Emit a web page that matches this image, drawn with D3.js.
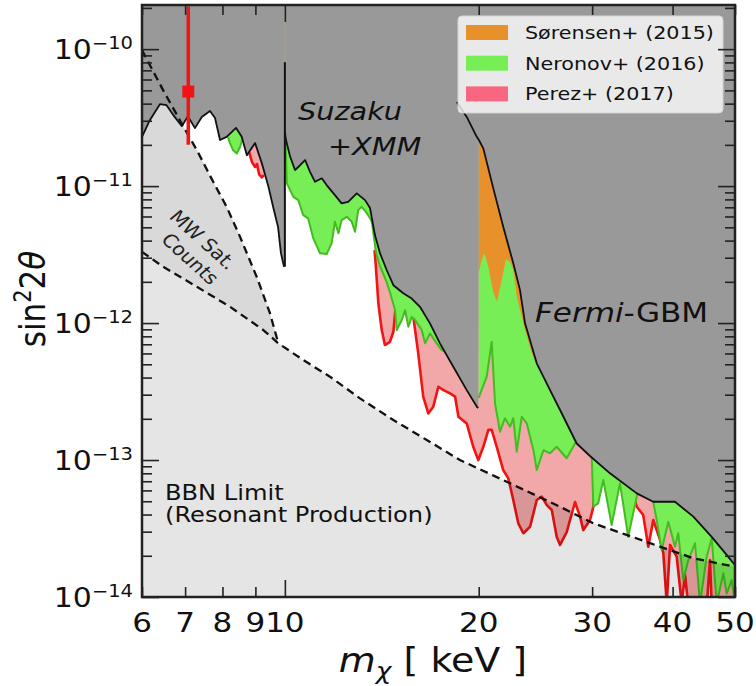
<!DOCTYPE html>
<html>
<head>
<meta charset="utf-8">
<script src="https://cdn.jsdelivr.net/npm/d3@7"></script>
<style>
  body { margin: 0; background: #fff; }
  svg { display: block; font-family: "DejaVu Sans", sans-serif; }
</style>
</head>
<body>
<svg id="chart" width="756" height="686"></svg>
<script>
/* ===== DATA (mass in keV, sin^2 2theta) ===== */
const suzakuLowMass = [6.0, 6.17, 6.40, 6.55, 6.71, 6.92, 7.07, 7.25, 7.43, 7.65, 7.79, 7.93, 8.12, 8.40, 8.57, 8.73, 8.99, 9.21, 9.43, 9.59, 9.76, 9.86, 9.97];
const suzakuLowSin = [2.29e-11, 3.03e-11, 3.97e-11, 3.90e-11, 3.30e-11, 2.74e-11, 3.24e-11, 2.65e-11, 3.20e-11, 3.54e-11, 3.14e-11, 2.17e-11, 2.29e-11, 2.66e-11, 2.29e-11, 1.68e-11, 2.06e-11, 1.47e-11, 9.88e-12, 7.03e-12, 5.02e-12, 3.24e-12, 2.58e-12];

const suzakuHighMass = [10.0, 10.04, 10.19, 10.37, 10.56, 10.75, 10.94, 11.14, 11.41, 11.61, 11.96, 12.25, 12.54, 12.93, 13.32, 13.56, 13.80, 14.05, 14.39, 14.74, 15.27, 15.74, 16.21, 16.80, 17.41, 18.26, 19.16, 19.88, 19.97];
const suzakuHighSin = [2.49e-11, 2.17e-11, 1.64e-11, 1.31e-11, 1.42e-11, 1.55e-11, 1.27e-11, 1.075e-11, 1.14e-11, 1.017e-11, 8.60e-12, 7.48e-12, 7.68e-12, 8.85e-12, 7.90e-12, 6.91e-12, 4.39e-12, 3.24e-12, 2.44e-12, 1.89e-12, 1.65e-12, 1.51e-12, 1.315e-12, 9.95e-13, 7.11e-13, 4.80e-13, 3.24e-13, 2.44e-13, 2.40e-13];

const fermiMass = [18.49, 19.16, 19.86, 20.0, 20.33, 21.07, 21.83, 22.63, 23.18, 23.60, 24.61, 25.81, 26.75, 28.39, 29.77, 31.98, 35.19, 37.33, 40.34, 43.08, 46.00, 48.53, 50.0];
const fermiSin = [4.12e-11, 3.20e-11, 2.29e-11, 2.18e-11, 1.885e-11, 9.62e-12, 5.05e-12, 2.73e-12, 1.74e-12, 9.95e-13, 5.08e-13, 3.24e-13, 2.32e-13, 1.32e-13, 1.07e-13, 8.00e-14, 5.71e-14, 4.96e-14, 4.96e-14, 3.86e-14, 2.75e-14, 2.03e-14, 1.71e-14];

const suzakuSpikeTop = 8.04e-11;

const mwMass = [6.0, 6.47, 6.96, 7.30, 7.74, 8.12, 8.52, 9.04, 9.48, 9.77];
const mwSin = [9.83e-11, 5.02e-11, 2.71e-11, 1.83e-11, 1.075e-11, 7.06e-12, 4.26e-12, 2.18e-12, 1.18e-12, 7.11e-13];

const bbnMass = [6.0, 6.47, 7.30, 8.22, 9.26, 9.77, 10.68, 11.75, 13.08, 14.74, 16.61, 18.70, 22.37, 26.75, 30.13, 33.94, 38.24, 43.08, 50.0];
const bbnSin = [3.31e-12, 2.58e-12, 1.84e-12, 1.315e-12, 8.89e-13, 7.11e-13, 5.37e-13, 4.06e-13, 2.82e-13, 1.96e-13, 1.40e-13, 1.0e-13, 6.76e-14, 4.56e-14, 3.45e-14, 2.84e-14, 2.33e-14, 1.92e-14, 1.66e-14];

// Perez+ (2017) lower edges
const perezAMass = [8.80, 8.89, 8.99, 9.05, 9.12, 9.21, 9.28];
const perezASin = [1.77e-11, 1.50e-11, 1.38e-11, 1.45e-11, 1.22e-11, 1.16e-11, 1.20e-11];
const perezBMass = [13.78, 13.83, 13.97, 14.14, 14.30, 14.56, 14.74, 14.88, 15.37, 15.76, 15.87, 16.11, 16.40, 16.70, 17.00, 17.31, 17.63, 18.05, 18.38, 18.60, 19.16, 19.61, 19.97, 20.33, 20.70, 20.95, 21.33, 21.83, 22.23, 22.63, 23.04, 23.46, 24.03, 24.61, 25.06, 25.51, 25.97, 26.43, 26.75, 27.39, 28.22, 28.73, 29.07, 29.77, 30.13, 30.42, 31.19, 33.14, 34.59, 35.19, 36.01, 36.67, 37.33, 38.24, 38.70, 39.17, 39.64, 40.59, 41.32, 41.82, 42.27, 45.23, 45.72, 46.00, 50.0];
const perezBSin = [3.41e-12, 2.79e-12, 1.39e-12, 8.89e-13, 6.91e-13, 7.30e-13, 8.64e-13, 1.42e-12, 1.52e-12, 1.40e-12, 1.017e-12, 6.01e-13, 2.90e-13, 2.19e-13, 2.45e-13, 3.43e-13, 3.24e-13, 3.07e-13, 2.90e-13, 2.07e-13, 1.85e-13, 1.25e-13, 1.0e-13, 1.25e-13, 1.66e-13, 1.66e-13, 1.25e-13, 8.45e-14, 7.35e-14, 5.11e-14, 3.45e-14, 2.92e-14, 3.26e-14, 5.11e-14, 5.40e-14, 4.69e-14, 4.32e-14, 2.75e-14, 2.40e-14, 2.98e-14, 4.94e-14, 3.86e-14, 3.08e-14, 3.65e-14, 4.54e-14, 9.67e-14, 8.31e-14, 6.91e-14, 5.94e-14, 4.56e-14, 3.97e-14, 2.33e-14, 3.65e-14, 2.61e-14, 2.08e-14, 9e-15, 2.40e-14, 1.97e-14, 9e-15, 1.45e-14, 9e-15, 9e-15, 1.86e-14, 9e-15, 9e-15];

// Neronov+ (2016) lower edges
const neronovAMass = [8.16, 8.22, 8.31, 8.42, 8.52, 8.60];
const neronovASin = [2.28e-11, 2.05e-11, 1.83e-11, 1.73e-11, 1.93e-11, 2.24e-11];
const neronovBMass = [10.02, 10.07, 10.31, 10.49, 10.68, 10.87, 11.07, 11.34, 11.61, 11.82, 11.96, 12.11, 12.25, 12.48, 12.70, 12.85, 13.00, 13.16, 13.37, 13.56, 13.65, 13.85, 14.05, 14.39, 14.56, 14.83, 14.92, 15.19, 15.37, 15.55, 15.74, 15.93, 16.31, 16.51, 16.80, 17.21, 17.52, 17.79];
const neronovBSin = [2.36e-11, 1.046e-11, 8.35e-12, 7.90e-12, 6.14e-12, 5.81e-12, 4.15e-12, 3.23e-12, 3.19e-12, 3.82e-12, 5.49e-12, 4.52e-12, 5.65e-12, 5.97e-12, 5.49e-12, 4.64e-12, 6.68e-12, 7.06e-12, 6.46e-12, 5.84e-12, 5.46e-12, 3.30e-12, 2.61e-12, 1.99e-12, 1.68e-12, 1.24e-12, 8.89e-13, 1.052e-12, 1.24e-12, 9.40e-13, 1.11e-12, 1.052e-12, 8.89e-13, 7.11e-13, 8.41e-13, 7.11e-13, 6.35e-13, 6.14e-13];
const neronovCMass = [19.99, 20.58, 20.95, 21.20, 21.58, 21.97, 22.37, 22.63, 22.91, 23.33, 23.75, 24.32, 24.61, 25.21, 25.81, 26.43, 27.39, 28.22, 28.42];
const neronovCSin = [2.84e-13, 4.06e-13, 7.30e-13, 2.59e-13, 1.61e-13, 2.02e-13, 1.75e-13, 2.02e-13, 1.15e-13, 2.07e-13, 1.85e-13, 1.18e-13, 8.45e-14, 1.18e-13, 1.12e-13, 1.25e-13, 1.03e-13, 1.32e-13, 1.38e-13];
const neronovDMass = [29.95, 30.13, 30.66, 31.22, 32.17, 33.14, 34.13, 35.19, 35.29];
const neronovDSin = [1.088e-13, 4.56e-14, 4.83e-14, 7.15e-14, 3.35e-14, 6.76e-14, 2.75e-14, 5.40e-14, 5.74e-14];
const neronovEMass = [37.30, 37.79, 38.47, 39.39, 40.34, 40.82, 41.56, 42.32, 43.34, 44.12, 45.19, 46.00, 46.84, 47.96, 48.53, 49.41, 50.0];
const neronovESin = [5.02e-14, 3.65e-14, 2.20e-14, 3.54e-14, 2.33e-14, 2.92e-14, 1.33e-14, 1.86e-14, 2.47e-14, 9e-15, 1.97e-14, 2.68e-14, 9e-15, 1.49e-14, 1.06e-14, 1.33e-14, 9e-15];

// Sorensen+ (2015) lower edge
const sorensenMass = [19.99, 20.21, 20.41, 20.70, 21.07, 21.35, 21.71, 22.05, 22.37, 22.63, 22.91, 23.60, 24.17, 24.73];
const sorensenSin = [2.32e-12, 2.88e-12, 3.24e-12, 2.58e-12, 1.68e-12, 1.43e-12, 2.06e-12, 2.93e-12, 2.79e-12, 2.44e-12, 1.56e-12, 8.89e-13, 6.01e-13, 4.69e-13];

// 3.5 keV line
const lineMass = 7.08;
const lineSin = 4.9e-11;
const lineSinRange = [2.0e-11, 2.05e-10];

const xTickMinor = [6, 7, 8, 9, 20, 30, 40, 50];
const xTickMajor = [10];
const xTickLabels = [6, 7, 8, 9, 10, 20, 30, 40, 50];
const yTickExps = [-14, -13, -12, -11, -10];

const legendLabels = ["Sørensen+ (2015)", "Neronov+ (2016)", "Perez+ (2017)"];
const legendColors = ["#e8902a", "#77ee55", "#f8667f"];

/* ===== STYLE ===== */
const plot = { left: 142, right: 735, top: 5, bottom: 597 };
const SX = 1.15;
const colors = {
    excluded: "#999999",
    mw: "#d9d9d9",
    green: "#77ee55",
    greenEdge: "#44bb22",
    orange: "#e8902a",
    pinkFill: "#e03030",
    red: "#f01414"
};

/* ===== SCALES ===== */
const x = d3.scaleLog().domain([6, 50]).range([plot.left, plot.right]);
const y = d3.scaleLog().domain([1e-14, 2.1e-10]).range([plot.bottom, plot.top]);
const yTop = y.domain()[1];

const svg = d3.select("#chart");

svg.append("defs").append("clipPath").attr("id", "plotClip")
    .append("rect")
    .attr("x", plot.left).attr("y", plot.top)
    .attr("width", plot.right - plot.left)
    .attr("height", plot.bottom - plot.top);

const g = svg.append("g").attr("clip-path", "url(#plotClip)");

function pts(ms, vs) {
    return ms.map((m, i) => ({ m: m, v: vs[i] }));
}

const line = d3.line().x(d => x(d.m)).y(d => y(d.v));
const toTop = d3.area().x(d => x(d.m)).y0(d => y(d.v)).y1(plot.top);
const toBottom = d3.area().x(d => x(d.m)).y0(d => y(d.v)).y1(plot.bottom);

const suzakuLow = pts(suzakuLowMass, suzakuLowSin);
const suzakuHigh = pts(suzakuHighMass, suzakuHighSin);
const fermi = pts(fermiMass, fermiSin);
const mw = pts(mwMass, mwSin);
const bbn = pts(bbnMass, bbnSin);
const perezA = pts(perezAMass, perezASin);
const perezB = pts(perezBMass, perezBSin);
const neronovA = pts(neronovAMass, neronovASin);
const neronovB = pts(neronovBMass, neronovBSin);
const neronovC = pts(neronovCMass, neronovCSin);
const neronovD = pts(neronovDMass, neronovDSin);
const neronovE = pts(neronovEMass, neronovESin);
const sorensen = pts(sorensenMass, sorensenSin);

/* ===== BACKGROUND + MW REGION ===== */
g.append("rect")
    .attr("x", plot.left).attr("y", plot.top)
    .attr("width", plot.right - plot.left).attr("height", plot.bottom - plot.top)
    .attr("fill", "#fff");

const mwLast = mwMass[mwMass.length - 1];
const mwPoly = mw.concat(bbn.filter(d => d.m <= mwLast).reverse());
g.append("path").attr("d", line(mwPoly) + "Z").attr("fill", colors.mw);

/* ===== PEREZ ===== */
[perezA, perezB].forEach(p => {
    g.append("path").attr("d", toTop(p)).attr("fill", colors.pinkFill).attr("fill-opacity", 0.42);
});
[perezA, perezB].forEach(p => {
    g.append("path").attr("d", line(p))
        .attr("fill", "none").attr("stroke", colors.red)
        .attr("stroke-width", 2.6).attr("stroke-linejoin", "round");
});

/* ===== NERONOV + SORENSEN ===== */
g.append("path").attr("d", toTop(neronovC)).attr("fill", colors.green);
g.append("path").attr("d", toTop(sorensen)).attr("fill", colors.orange);
[neronovA, neronovB, neronovD, neronovE].forEach(p => {
    g.append("path").attr("d", toTop(p)).attr("fill", colors.green);
});
[neronovA, neronovB, neronovC, neronovD, neronovE].forEach(p => {
    g.append("path").attr("d", line(p))
        .attr("fill", "none").attr("stroke", colors.greenEdge)
        .attr("stroke-width", 2).attr("stroke-linejoin", "round");
});

/* ===== BBN REGION ===== */
g.append("path").attr("d", toBottom(bbn)).attr("fill", "#000").attr("fill-opacity", 0.1);

/* ===== EXCLUDED (X-RAY) REGION ===== */
const excluded = [{ m: 6, v: yTop }]
    .concat(suzakuLow, suzakuHigh, fermi.filter(d => d.m >= 20), [{ m: 50, v: yTop }]);
g.append("path").attr("d", line(excluded) + "Z").attr("fill", colors.excluded);

[suzakuLow, suzakuHigh, fermi].forEach(p => {
    g.append("path").attr("d", line(p))
        .attr("fill", "none").attr("stroke", "#111")
        .attr("stroke-width", 1.8).attr("stroke-linejoin", "round");
});
g.append("line")
    .attr("x1", x(10)).attr("x2", x(10))
    .attr("y1", y(suzakuLowSin[suzakuLowSin.length - 1])).attr("y2", y(suzakuSpikeTop))
    .attr("stroke", "#111").attr("stroke-width", 2);
g.append("line")
    .attr("x1", x(10)).attr("x2", x(10))
    .attr("y1", y(suzakuSpikeTop)).attr("y2", plot.top)
    .attr("stroke", "#a8a088").attr("stroke-width", 1);

/* ===== DASHED LIMITS ===== */
[mw, bbn].forEach(p => {
    g.append("path").attr("d", line(p))
        .attr("fill", "none").attr("stroke", "#111")
        .attr("stroke-width", 2.3).attr("stroke-dasharray", "8,5");
});

/* ===== 3.5 keV LINE ===== */
g.append("line")
    .attr("x1", x(lineMass)).attr("x2", x(lineMass))
    .attr("y1", y(lineSinRange[0])).attr("y2", y(lineSinRange[1]))
    .attr("stroke", colors.red).attr("stroke-width", 3.5);
g.append("rect")
    .attr("x", x(lineMass) - 6).attr("y", y(lineSin) - 6)
    .attr("width", 12).attr("height", 12)
    .attr("fill", colors.red);

/* ===== ANNOTATIONS ===== */
function stretchedText(px, py, size) {
    return svg.append("text")
        .attr("transform", `translate(${px},${py}) scale(${SX},1)`)
        .attr("font-size", size)
        .attr("fill", "#111");
}

stretchedText(298, 120, 25).attr("font-style", "italic").text("Suzaku");
stretchedText(328, 155, 25).attr("font-style", "italic").text("+XMM");

const fermiLabel = stretchedText(535, 322, 27);
fermiLabel.append("tspan").attr("font-style", "italic").text("Fermi");
fermiLabel.append("tspan").text("-GBM");

[["MW Sat.", 203, 240], ["Counts", 190, 259]].forEach(([txt, cx, cy]) => {
    svg.append("text")
        .attr("transform", `translate(${cx},${cy}) scale(${SX},1) rotate(46)`)
        .attr("text-anchor", "middle")
        .attr("dominant-baseline", "central")
        .attr("font-size", 18)
        .attr("fill", "#222")
        .text(txt);
});

stretchedText(165, 500, 21).text("BBN Limit");
stretchedText(165, 522, 21).text("(Resonant Production)");

/* ===== LEGEND ===== */
const legend = svg.append("g");
legend.append("rect")
    .attr("x", 458).attr("y", 16).attr("width", 265).attr("height", 97)
    .attr("rx", 4)
    .attr("fill", "#fff").attr("fill-opacity", 0.78)
    .attr("stroke", "#d4d4d4").attr("stroke-width", 1);

legendLabels.forEach((lbl, i) => {
    const cy = 32.5 + i * 30.7;
    legend.append("rect")
        .attr("x", 466).attr("y", cy - 7.5)
        .attr("width", 42).attr("height", 15)
        .attr("fill", legendColors[i]);
    legend.append("text")
        .attr("transform", `translate(525,${cy + 6.5}) scale(${SX},1)`)
        .attr("font-size", 18)
        .attr("fill", "#111")
        .text(lbl);
});

/* ===== AXES ===== */
function styleTicks(sel) {
    sel.select(".domain").remove();
    sel.selectAll("line").attr("stroke", "#222").attr("stroke-width", 1.6);
}

const yMinor = y.ticks().filter(v => Math.abs(Math.log10(v) - Math.round(Math.log10(v))) > 1e-6);
const yMajor = yTickExps.map(e => Math.pow(10, e));

svg.append("g").attr("transform", `translate(0,${plot.bottom})`)
    .call(d3.axisBottom(x).tickValues(xTickMinor).tickSize(-10).tickFormat("")).call(styleTicks);
svg.append("g").attr("transform", `translate(0,${plot.bottom})`)
    .call(d3.axisBottom(x).tickValues(xTickMajor).tickSize(-17).tickFormat("")).call(styleTicks);
svg.append("g").attr("transform", `translate(0,${plot.top})`)
    .call(d3.axisTop(x).tickValues(xTickMinor).tickSize(-10).tickFormat("")).call(styleTicks);
svg.append("g").attr("transform", `translate(0,${plot.top})`)
    .call(d3.axisTop(x).tickValues(xTickMajor).tickSize(-17).tickFormat("")).call(styleTicks);

svg.append("g").attr("transform", `translate(${plot.left},0)`)
    .call(d3.axisLeft(y).tickValues(yMinor).tickSize(-10).tickFormat("")).call(styleTicks);
svg.append("g").attr("transform", `translate(${plot.left},0)`)
    .call(d3.axisLeft(y).tickValues(yMajor).tickSize(-17).tickFormat("")).call(styleTicks);
svg.append("g").attr("transform", `translate(${plot.right},0)`)
    .call(d3.axisRight(y).tickValues(yMinor).tickSize(-10).tickFormat("")).call(styleTicks);
svg.append("g").attr("transform", `translate(${plot.right},0)`)
    .call(d3.axisRight(y).tickValues(yMajor).tickSize(-17).tickFormat("")).call(styleTicks);

svg.append("rect")
    .attr("x", plot.left).attr("y", plot.top)
    .attr("width", plot.right - plot.left).attr("height", plot.bottom - plot.top)
    .attr("fill", "none").attr("stroke", "#222").attr("stroke-width", 2.5);

/* ===== TICK LABELS ===== */
xTickLabels.forEach(v => {
    svg.append("text")
        .attr("transform", `translate(${x(v)},632) scale(${SX},1)`)
        .attr("text-anchor", "middle")
        .attr("font-size", 27)
        .attr("fill", "#111")
        .text(v);
});

yTickExps.forEach(e => {
    const t = svg.append("text")
        .attr("transform", `translate(133,${y(Math.pow(10, e)) + 10}) scale(${SX},1)`)
        .attr("text-anchor", "end")
        .attr("font-size", 26)
        .attr("fill", "#111");
    t.append("tspan").text("10");
    t.append("tspan").attr("font-size", 17).attr("dy", -10).text("\u2212" + Math.abs(e));
});

/* ===== AXIS LABELS ===== */
const xLabel = svg.append("text")
    .attr("transform", `translate(433,672) scale(${SX},1)`)
    .attr("text-anchor", "middle")
    .attr("font-size", 33)
    .attr("fill", "#111");
xLabel.append("tspan").attr("font-style", "italic").text("m");
xLabel.append("tspan").attr("font-style", "italic").attr("font-size", 23).attr("dy", 7).text("χ");
xLabel.append("tspan").attr("dy", -7).text(" [ keV ]");

const yLabel = svg.append("text")
    .attr("transform", `translate(45,299) rotate(-90) scale(1,${SX})`)
    .attr("text-anchor", "middle")
    .attr("font-size", 31)
    .attr("fill", "#111");
yLabel.append("tspan").text("sin");
yLabel.append("tspan").attr("font-size", 21).attr("dy", -12).text("2");
yLabel.append("tspan").attr("dy", 12).text("2");
yLabel.append("tspan").attr("font-style", "italic").text("θ");
</script>
</body>
</html>
